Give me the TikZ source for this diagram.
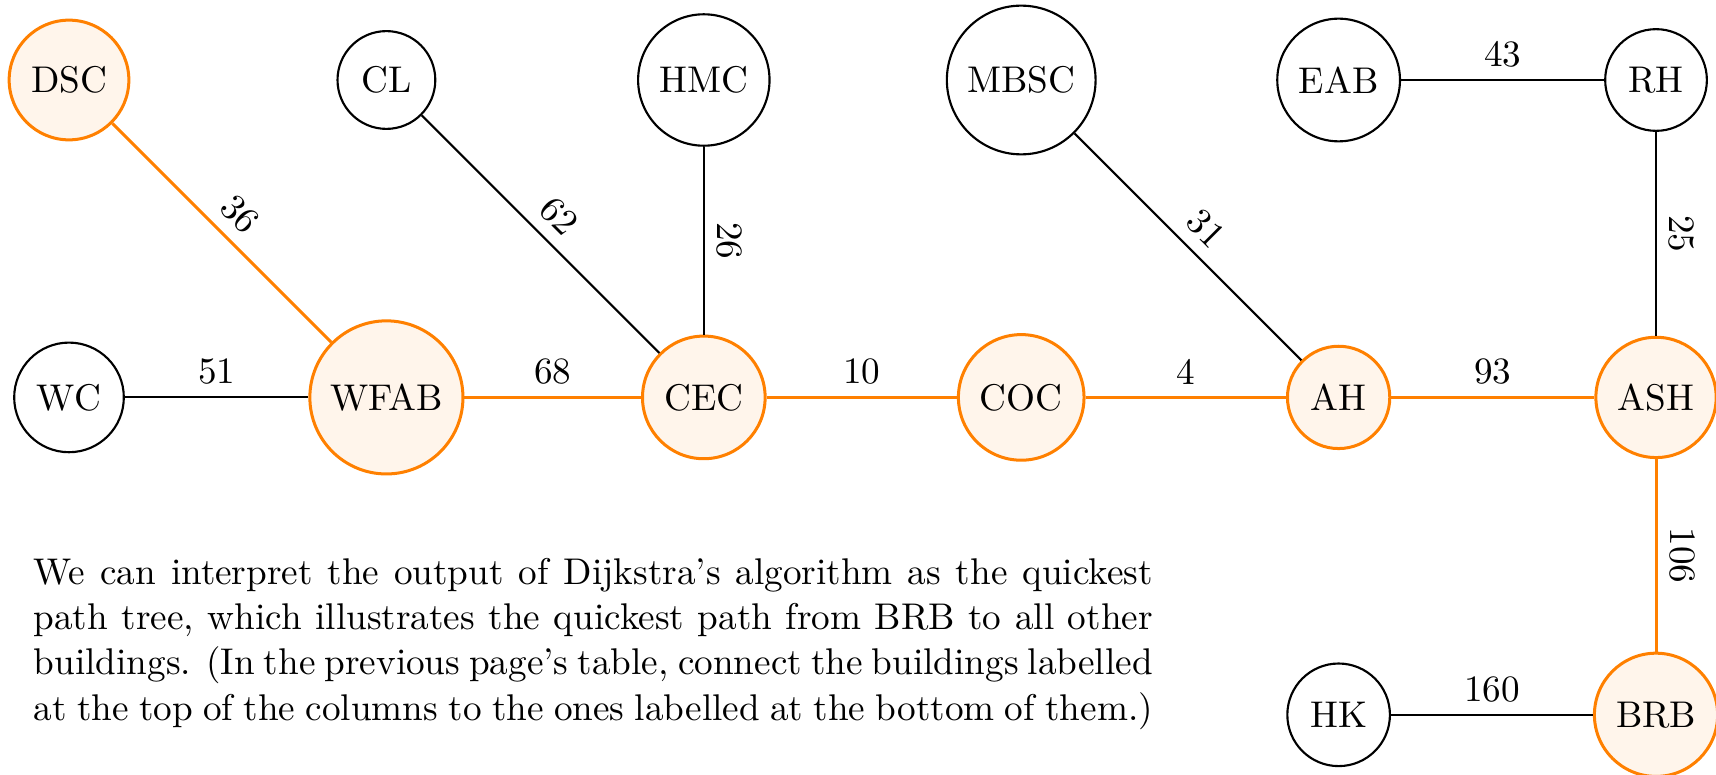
\documentclass[tikz,border=0pt]{standalone}
\usepackage{tikz}

\definecolor{treeorange}{RGB}{255,128,0}
\tikzset{
  bldg/.style={circle, draw=black, line width=0.6pt, inner sep=4.2pt},
  treebldg/.style={bldg, draw=treeorange, fill=treeorange!8, line width=0.85pt},
  road/.style={draw=black, line width=0.6pt},
  treeroad/.style={draw=treeorange, line width=0.85pt},
  wt/.style={midway, above, sloped}
}

\begin{document}
\begin{tikzpicture}[x=3.15cm, y=3.15cm, font=\fontsize{10.5}{12.8}\selectfont]
	%%%%% START %%%%%
	\useasboundingbox (-0.2174,0.252) rectangle (5.189,-2.1865);

	% top row
	\node[treebldg] (DSC) at (0,0) {DSC};
	\node[bldg] (CL) at (1,0) {CL};
	\node[bldg] (HMC) at (2,0) {HMC};
	\node[bldg] (MBSC) at (3,0) {MBSC};
	\node[bldg] (EAB) at (4,0) {EAB};
	\node[bldg] (RH) at (5,0) {RH};

	% middle row
	\node[bldg] (WC) at (0,-1) {WC};
	\node[treebldg] (WFAB) at (1,-1) {WFAB};
	\node[treebldg] (CEC) at (2,-1) {CEC};
	\node[treebldg] (COC) at (3,-1) {COC};
	\node[treebldg] (AH) at (4,-1) {AH};
	\node[treebldg] (ASH) at (5,-1) {ASH};

	% bottom row
	\node[bldg] (HK) at (4,-2) {HK};
	\node[treebldg] (BRB) at (5,-2) {BRB};

	% roads not in the tree
	\draw[road] (WC) -- node[wt] {51} (WFAB);
	\draw[road] (CL) -- node[wt] {62} (CEC);
	\draw[road] (HMC) -- node[wt] {26} (CEC);
	\draw[road] (MBSC) -- node[wt] {31} (AH);
	\draw[road] (EAB) -- node[wt] {43} (RH);
	\draw[road] (RH) -- node[wt] {25} (ASH);
	\draw[road] (HK) -- node[wt] {160} (BRB);

	% quickest path tree
	\draw[treeroad] (DSC) -- node[wt] {36} (WFAB);
	\draw[treeroad] (WFAB) -- node[wt] {68} (CEC);
	\draw[treeroad] (CEC) -- node[wt] {10} (COC);
	\draw[treeroad] (COC) -- node[wt] {4} (AH);
	\draw[treeroad] (AH) -- node[wt] {93} (ASH);
	\draw[treeroad] (ASH) -- node[wt] {106} (BRB);

	\node[anchor=north west, inner sep=0pt, text width=316pt, align=justify] (note) at (-0.1134,-1.504)
	  {We can interpret the output of Dijkstra's algorithm as the quickest path tree, which illustrates the quickest path from BRB to all other buildings. (In the previous page's table, connect the buildings labelled at the top of the columns to the ones labelled at the bottom of them.)};
	%%%%% END %%%%%
\end{tikzpicture}
\end{document}
